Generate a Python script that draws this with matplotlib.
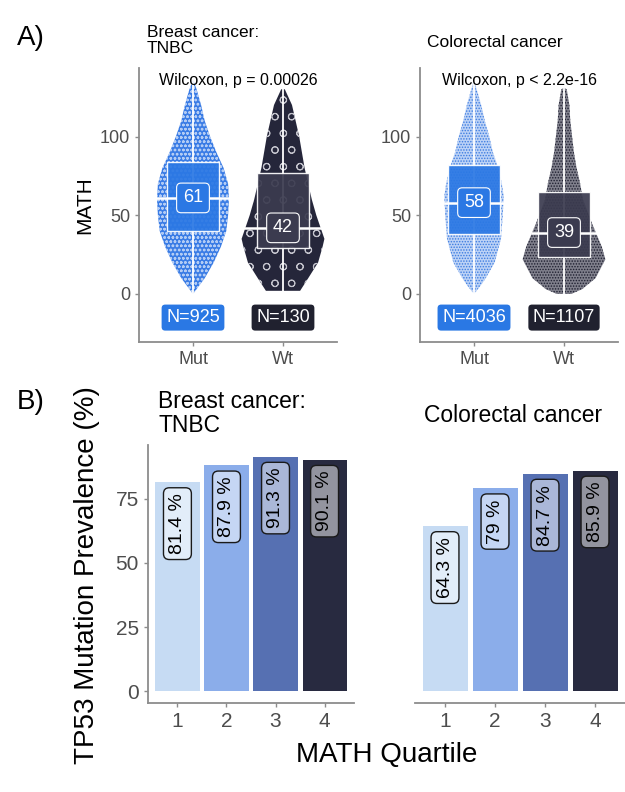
import numpy as np
import matplotlib.pyplot as plt
from matplotlib.patches import Rectangle, Polygon

plt.rcParams['font.family'] = ['Liberation Sans', 'DejaVu Sans']
plt.rcParams['hatch.linewidth'] = 0.7

# ---- Panel A data ----
groups = ["Mut", "Wt"]
breast_n = [925, 130]
crc_n = [4036, 1107]
breast_median = [61, 42]
breast_q1 = [40, 29]
breast_q3 = [84, 77]
crc_median = [58, 39]
crc_q1 = [38, 23.5]
crc_q3 = [82, 65]
breast_p = "Wilcoxon, p = 0.00026"
crc_p = "Wilcoxon, p < 2.2e-16"

# violin outlines: MATH levels and half widths (x units)
breast_mut_y = [0, 10, 20, 30, 40, 50, 60, 70, 80, 90, 100, 110, 120, 130, 136]
breast_mut_w = [0, 0.13, 0.23, 0.31, 0.37, 0.39, 0.40, 0.39, 0.34, 0.26, 0.19, 0.13, 0.09, 0.04, 0]
breast_wt_y = [2, 10, 20, 30, 35, 40, 50, 60, 70, 80, 90, 100, 110, 120, 130]
breast_wt_w = [0.19, 0.28, 0.39, 0.44, 0.46, 0.43, 0.37, 0.32, 0.28, 0.24, 0.21, 0.18, 0.14, 0.10, 0.02]
crc_mut_y = [0, 5, 10, 20, 35, 50, 62, 70, 80, 90, 100, 110, 120, 130, 136]
crc_mut_w = [0, 0.07, 0.13, 0.23, 0.30, 0.32, 0.33, 0.31, 0.27, 0.21, 0.17, 0.12, 0.08, 0.03, 0]
crc_wt_y = [0, 3, 10, 22, 30, 45, 60, 70, 80, 90, 100, 110, 120, 130, 131]
crc_wt_w = [0.08, 0.2, 0.35, 0.46, 0.42, 0.31, 0.21, 0.18, 0.14, 0.11, 0.09, 0.07, 0.06, 0.03, 0]

# ---- Panel B data ----
quartiles = ["1", "2", "3", "4"]
breast_prev = [81.4, 87.9, 91.3, 90.1]
crc_prev = [64.3, 79, 84.7, 85.9]

box_col = ["#2b78e4", "#3b3b4f"]
nlab_col = ["#2a78e4", "#20212f"]
bar_col = ["#c6dbf3", "#8badea", "#5670b2", "#282a40"]
axis_col = "#8c8c8c"
tick_txt = "#4d4d4d"

# violin look per panel: (face colour, dot colour, hatch, dot alpha)
breast_look = [("#3a7ce5", "white", "oooo", 0.6), ("#25263a", "#d0d0d8", "o", 0.9)]
crc_look = [("#bcd2f6", "#3b7be0", "......", 1.0), ("#80808c", "#1e1f30", "......", 1.0)]

fig = plt.figure(figsize=(6.25, 7.92), dpi=100)


def style_axes(ax, show_y=True):
    for s in ["top", "right"]:
        ax.spines[s].set_visible(False)
    for s in ["left", "bottom"]:
        ax.spines[s].set_color(axis_col)
        ax.spines[s].set_linewidth(1.3)
    ax.tick_params(colors=axis_col, length=3, width=1, labelcolor=tick_txt)
    if not show_y:
        ax.spines["left"].set_visible(False)
        ax.tick_params(axis="y", left=False, labelleft=False)


def violin_panel(ax, profiles, medians, q1, q3, ns, ptext, looks):
    for i, (vy, vw) in enumerate(profiles):
        x = i + 1
        face, dots, hatch, dot_alpha = looks[i]
        vy = np.array(vy, dtype=float)
        vw = np.array(vw, dtype=float)
        pts = np.concatenate([np.column_stack([x - vw, vy]),
                              np.column_stack([x + vw, vy])[::-1]])
        ax.add_patch(Polygon(pts, closed=True, facecolor=face,
                             edgecolor="none", zorder=1))
        ax.add_patch(Polygon(pts, closed=True, facecolor="none",
                             edgecolor=dots, lw=0, hatch=hatch,
                             alpha=dot_alpha, zorder=1.5))
        # white whisker through violin
        ax.plot([x, x], [vy.min(), vy.max()], color="white", lw=1.3, zorder=2)
        # box
        ax.add_patch(Rectangle((x - 0.29, q1[i]), 0.58, q3[i] - q1[i],
                               facecolor=box_col[i], edgecolor="white",
                               lw=1.0, alpha=0.93, zorder=3))
        # median line across violin
        hw = np.interp(medians[i], vy, vw)
        ax.plot([x - hw, x + hw], [medians[i]] * 2, color="white", lw=1.8, zorder=4)
        ax.text(x, medians[i], str(medians[i]), ha="center", va="center",
                color="white", fontsize=13, zorder=5,
                bbox=dict(boxstyle="round,pad=0.35,rounding_size=0.25",
                          fc=box_col[i], ec="white", lw=0.8))
        ax.text(x, -15, "N=%d" % ns[i], ha="center", va="center",
                color="white", fontsize=13, zorder=5,
                bbox=dict(boxstyle="round,pad=0.25,rounding_size=0.2",
                          fc=nlab_col[i], ec="none"))
    ax.text(1.5, 135.5, ptext, ha="center", va="center", fontsize=11.5, zorder=6)
    ax.set_xlim(0.4, 2.6)
    ax.set_ylim(-30.5, 143.5)
    ax.set_xticks([1, 2])
    ax.set_xticklabels(groups, fontsize=13)
    ax.set_yticks([0, 50, 100])
    ax.tick_params(axis="y", labelsize=13)
    style_axes(ax)


def bar_panel(ax, values, show_y=True):
    xs = np.arange(1, len(values) + 1)
    ax.bar(xs, values, width=0.9, color=bar_col, zorder=1)
    for x, v in zip(xs, values):
        ax.text(x, v - 4.3, "%g %%" % v, rotation=90, ha="center", va="top",
                fontsize=14, zorder=3,
                bbox=dict(boxstyle="round,pad=0.28,rounding_size=0.3",
                          fc=(1, 1, 1, 0.5), ec="#1a1a1a", lw=1.0))
    ax.set_xlim(0.4, 4.6)
    ax.set_ylim(-4.565, 95.865)
    ax.set_xticks(xs)
    ax.set_xticklabels(quartiles, fontsize=15)
    ax.set_yticks([0, 25, 50, 75])
    ax.tick_params(axis="y", labelsize=15)
    style_axes(ax, show_y)


ax1 = fig.add_axes([139 / 625, 1 - 342 / 792, 198 / 625, 274 / 792])
violin_panel(ax1, [(breast_mut_y, breast_mut_w), (breast_wt_y, breast_wt_w)],
             breast_median, breast_q1, breast_q3, breast_n, breast_p, breast_look)
ax1.set_ylabel("MATH", fontsize=15, labelpad=4)

ax2 = fig.add_axes([420 / 625, 1 - 342 / 792, 198 / 625, 274 / 792])
violin_panel(ax2, [(crc_mut_y, crc_mut_w), (crc_wt_y, crc_wt_w)],
             crc_median, crc_q1, crc_q3, crc_n, crc_p, crc_look)

ax3 = fig.add_axes([148 / 625, 1 - 703 / 792, 206 / 625, 258 / 792])
bar_panel(ax3, breast_prev)

ax4 = fig.add_axes([415 / 625, 1 - 703 / 792, 210 / 625, 258 / 792])
bar_panel(ax4, crc_prev, show_y=False)

# titles and panel letters
fig.text(147 / 625, 1 - 25 / 792, "Breast cancer:\nTNBC", ha="left", va="top",
         fontsize=12.5, linespacing=1.1)
fig.text(427 / 625, 1 - 35 / 792, "Colorectal cancer", ha="left", va="top", fontsize=12.5)
fig.text(158 / 625, 1 - 390 / 792, "Breast cancer:\nTNBC", ha="left", va="top",
         fontsize=16.5, linespacing=1.05)
fig.text(424 / 625, 1 - 404 / 792, "Colorectal cancer", ha="left", va="top", fontsize=16.5)
fig.text(17 / 625, 1 - 25 / 792, "A)", ha="left", va="top", fontsize=20)
fig.text(17 / 625, 1 - 389 / 792, "B)", ha="left", va="top", fontsize=20)

fig.text(87 / 625, 1 - 575 / 792, "TP53 Mutation Prevalence (%)", rotation=90,
         ha="center", va="center", fontsize=20)
fig.text(387 / 625, 1 - 755 / 792, "MATH Quartile", ha="center", va="center", fontsize=20)

fig.savefig("out.png", dpi=100, facecolor="white")
